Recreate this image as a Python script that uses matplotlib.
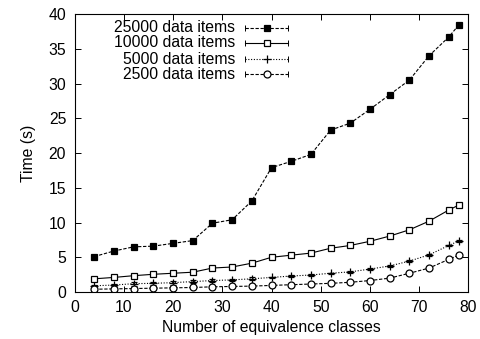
import numpy as np
import matplotlib
matplotlib.use("Agg")
import matplotlib.pyplot as plt

plt.rcParams['font.family'] = ['Liberation Sans', 'DejaVu Sans']

# number of equivalence classes
classes = [4, 8, 12, 16, 20, 24, 28, 32, 36, 40, 44, 48, 52, 56, 60, 64, 68, 72, 76, 78]

# time (s) per dataset size
t25000 = [5.1, 5.9, 6.5, 6.6, 7.0, 7.4, 9.9, 10.4, 13.1, 17.9, 18.8, 19.8, 23.3, 24.3,
          26.3, 28.4, 30.5, 34.0, 36.7, 38.4]
t10000 = [1.9, 2.1, 2.35, 2.55, 2.7, 2.85, 3.45, 3.6, 4.15, 5.0, 5.3, 5.6, 6.3, 6.7,
          7.3, 8.05, 8.95, 10.2, 11.8, 12.5]
t5000 = [0.9, 1.0, 1.2, 1.25, 1.35, 1.5, 1.65, 1.75, 1.9, 2.1, 2.3, 2.45, 2.7, 2.9,
         3.3, 3.75, 4.45, 5.35, 6.7, 7.35]
t2500 = [0.4, 0.45, 0.5, 0.55, 0.6, 0.65, 0.75, 0.8, 0.85, 0.95, 1.05, 1.15, 1.25, 1.4,
         1.65, 2.0, 2.7, 3.45, 4.7, 5.3]

# small error bars
e25000 = [0.1] * 20
e10000 = [0.1] * 20
e5000 = [0.1, 0.2, 0.3, 0.25, 0.3, 0.2, 0.25, 0.15, 0.2, 0.1, 0.2, 0.2, 0.1, 0.1,
         0.1, 0.1, 0.1, 0.15, 0.1, 0.1]
e2500 = [0.1] * 20

labels = ["25000 data items", "10000 data items", "5000 data items", "2500 data items"]

FS = 11.3

fig = plt.figure(figsize=(4.81, 3.39), dpi=100)
ax = fig.add_axes([0.155, 0.1386, 0.819, 0.82])

styles = [
    dict(y=t25000, e=e25000, ls=(0, (3, 1.5)), marker='s', mfc='black', ms=5),
    dict(y=t10000, e=e10000, ls='-', marker='s', mfc='white', ms=5),
    dict(y=t5000, e=e5000, ls=(0, (1, 1.5)), marker='+', mfc='black', ms=6),
    dict(y=t2500, e=e2500, ls=(0, (3, 1.5)), marker='o', mfc='white', ms=5),
]

for s in styles:
    ax.errorbar(classes, s['y'], yerr=s['e'], color='black', lw=0.8, ls=s['ls'],
                marker=s['marker'], mfc=s['mfc'], mec='black', ms=s['ms'], mew=0.9,
                capsize=2, elinewidth=0.7, capthick=0.7)

# gnuplot-style key
rows = [0.950, 0.896, 0.838, 0.784]
for s, lab, yy in zip(styles, labels, rows):
    ax.text(0.407, yy, lab, transform=ax.transAxes, ha='right', va='center', fontsize=FS)
    ax.plot([0.433, 0.542], [yy, yy], transform=ax.transAxes, color='black', lw=0.8,
            ls=s['ls'])
    ax.plot([0.433, 0.542], [yy, yy], transform=ax.transAxes, color='black', ls='none',
            marker='|', ms=4, mew=0.7)
    ax.plot([0.489], [yy], transform=ax.transAxes, color='black', marker=s['marker'],
            mfc=s['mfc'], mec='black', ms=s['ms'], mew=0.9)

ax.set_xlim(0, 80)
ax.set_ylim(0, 40)
ax.set_xticks(range(0, 81, 10))
ax.set_yticks(range(0, 41, 5))
ax.tick_params(direction='in', length=4, width=0.7, top=True, right=True, labelsize=FS,
               pad=6)
for sp in ax.spines.values():
    sp.set_linewidth(0.8)

ax.set_xlabel("Number of equivalence classes", fontsize=FS, labelpad=3)
ax.set_ylabel("Time (s)", fontsize=FS, labelpad=9)

fig.savefig("out.png", dpi=100)
